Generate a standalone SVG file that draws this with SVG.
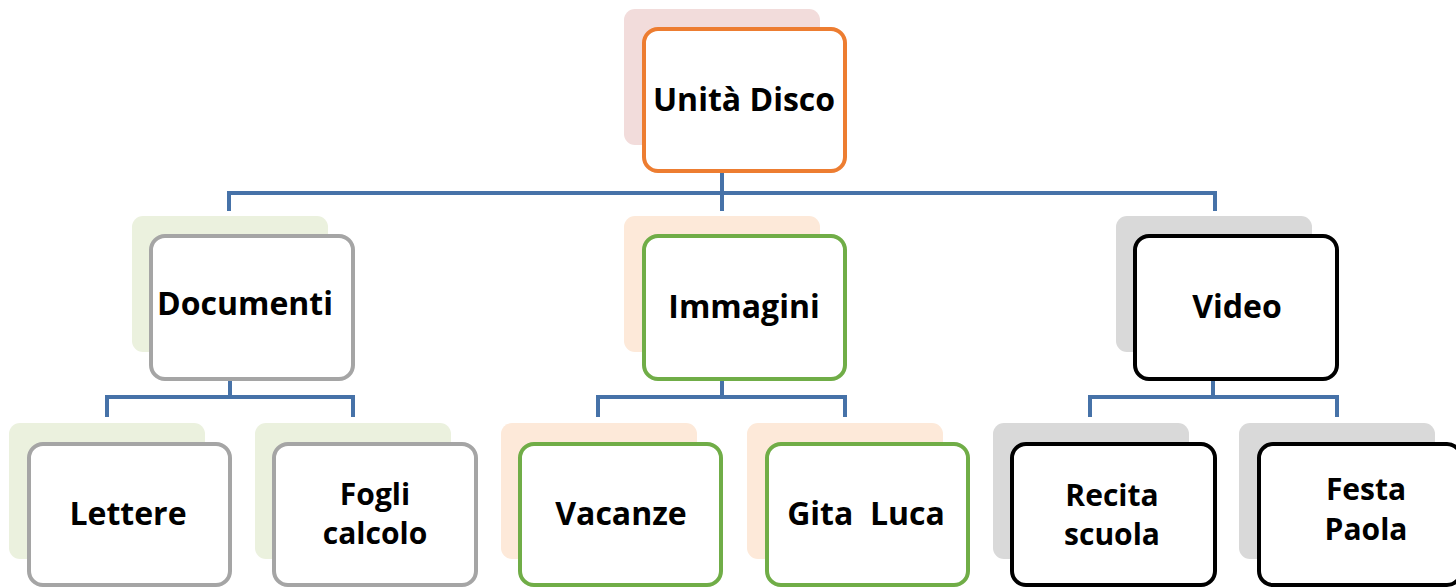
<svg xmlns="http://www.w3.org/2000/svg" width="1456" height="587" viewBox="0 0 1456 587">
<style>
.bg{stroke:none}
.fr{fill:#fff;stroke-width:4}
.t{font-family:"Open Sans","Liberation Sans",sans-serif;font-weight:bold;font-size:32px;fill:#000;text-anchor:middle}
.t2{font-size:30px}
.c{fill:none;stroke:#4672A8;stroke-width:4}
.pink{fill:#F2DCDB}.orange{stroke:#ED7D31}
.green{fill:#EBF1DE}.gray{stroke:#A5A5A5}
.peach{fill:#FDE9D9}.grn{stroke:#70AD47}
.lgray{fill:#D9D9D9}.blk{stroke:#000}
</style>
<rect width="1456" height="587" fill="#fff"/>
<g id="connectors">
<path class="c" d="M722 171V193M229 211V193H1215V211M722 193V211"/>
<path class="c" d="M230 379V397M107 417V397H353V417"/>
<path class="c" d="M722 379V397M598 417V397H845V417"/>
<path class="c" d="M1213 379V397M1090 417V397H1337V417"/>
</g>
<g id="n-unita">
<rect class="bg pink" x="624" y="9" width="196" height="136" rx="11"/>
<rect class="fr orange" x="644" y="29" width="201" height="142" rx="14"/>
<text class="t" x="744" y="111">Unità Disco</text>
</g>
<g id="n-documenti">
<rect class="bg green" x="132" y="216" width="196" height="136" rx="11"/>
<rect class="fr gray" x="151" y="236" width="202" height="143" rx="14"/>
<text class="t" x="245" y="315">Documenti</text>
</g>
<g id="n-immagini">
<rect class="bg peach" x="624" y="216" width="196" height="136" rx="11"/>
<rect class="fr grn" x="644" y="236" width="201" height="143" rx="14"/>
<text class="t" x="744" y="318">Immagini</text>
</g>
<g id="n-video">
<rect class="bg lgray" x="1116" y="216" width="196" height="136" rx="11"/>
<rect class="fr blk" x="1135" y="236" width="202" height="143" rx="14"/>
<text class="t" x="1237" y="318">Video</text>
</g>
<g id="n-lettere">
<rect class="bg green" x="9" y="423" width="196" height="136" rx="11"/>
<rect class="fr gray" x="29" y="444" width="201" height="141" rx="14"/>
<text class="t" x="128" y="525">Lettere</text>
</g>
<g id="n-fogli">
<rect class="bg green" x="255" y="423" width="196" height="136" rx="11"/>
<rect class="fr gray" x="274" y="444" width="202" height="141" rx="14"/>
<text class="t t2" x="375" y="505">Fogli</text>
<text class="t t2" x="375" y="544">calcolo</text>
</g>
<g id="n-vacanze">
<rect class="bg peach" x="501" y="423" width="196" height="136" rx="11"/>
<rect class="fr grn" x="520" y="444" width="201" height="141" rx="14"/>
<text class="t" x="621" y="525">Vacanze</text>
</g>
<g id="n-gita">
<rect class="bg peach" x="747" y="423" width="196" height="136" rx="11"/>
<rect class="fr grn" x="767" y="444" width="201" height="141" rx="14"/>
<text class="t" x="866" y="525" xml:space="preserve">Gita  Luca</text>
</g>
<g id="n-recita">
<rect class="bg lgray" x="993" y="423" width="196" height="136" rx="11"/>
<rect class="fr blk" x="1012" y="444" width="203" height="141" rx="14"/>
<text class="t t2" x="1112" y="506">Recita</text>
<text class="t t2" x="1112" y="545">scuola</text>
</g>
<g id="n-festa">
<rect class="bg lgray" x="1239" y="423" width="196" height="136" rx="11"/>
<rect class="fr blk" x="1259" y="444" width="202" height="141" rx="14"/>
<text class="t t2" x="1366" y="500">Festa</text>
<text class="t t2" x="1366" y="540">Paola</text>
</g>
</svg>
